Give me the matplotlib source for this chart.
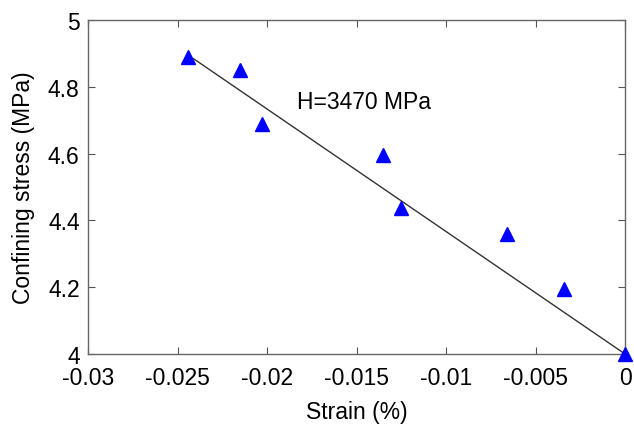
import matplotlib
matplotlib.use('Agg')
import matplotlib.pyplot as plt

# measured points
strain = [-0.0244, -0.0215, -0.0203, -0.0135, -0.0125, -0.0066, -0.0034, 0.0]
stress = [4.890, 4.850, 4.690, 4.597, 4.437, 4.358, 4.195, 4.0]

# fitted line end points
fit_x = [-0.0241, 0.0]
fit_y = [4.884, 4.0]

x_ticks = [-0.03, -0.025, -0.02, -0.015, -0.01, -0.005, 0]
x_labels = ['-0.03', '-0.025', '-0.02', '-0.015', '-0.01', '-0.005', '0']
y_ticks = [4, 4.2, 4.4, 4.6, 4.8, 5]
y_labels = ['4', '4.2', '4.4', '4.6', '4.8', '5']

plt.rcParams['font.family'] = ['Liberation Sans', 'DejaVu Sans']

fig = plt.figure(figsize=(6.34, 4.27), dpi=100)
ax = fig.add_axes([88 / 634, 1 - 355 / 427, 537 / 634, 334 / 427])

ax.plot(fit_x, fit_y, color='#333333', linewidth=1.0)
ax.plot(strain, stress, linestyle='none', marker='^', markersize=10,
        color='#0000ff', clip_on=False, zorder=3)

ax.text(-0.0183, 4.757, 'H=3470 MPa', fontsize=16.5, va='center', ha='left')

ax.set_xlim(-0.03, 0)
ax.set_ylim(4, 5)
ax.set_xticks(x_ticks)
ax.set_xticklabels(x_labels)
ax.set_yticks(y_ticks)
ax.set_yticklabels(y_labels)
ax.tick_params(direction='in', top=True, right=True, length=5, width=0.8,
               color='#555555', labelsize=16.5)
ax.tick_params(axis='x', pad=8.5)
ax.tick_params(axis='y', pad=6)
for s in ax.spines.values():
    s.set_color('#666666')
    s.set_linewidth(1.0)

ax.set_xlabel('Strain (%)', fontsize=16.5, labelpad=8)
ax.set_ylabel('Confining stress (MPa)', fontsize=16.5, labelpad=9)

fig.savefig('out.png', dpi=100)
